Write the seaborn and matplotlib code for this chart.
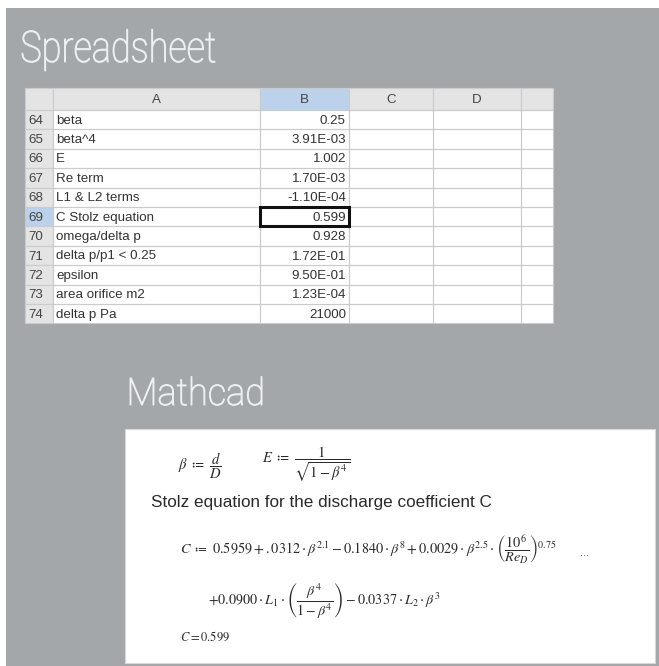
import matplotlib.pyplot as plt
import seaborn as sns
from matplotlib.patches import Rectangle, PathPatch
from matplotlib.textpath import TextPath
from matplotlib.font_manager import FontProperties
from matplotlib.transforms import Affine2D

sns.set_style("white")
plt.rcParams['font.family'] = ['Liberation Sans', 'DejaVu Sans']
plt.rcParams['mathtext.fontset'] = 'stix'

# spreadsheet data
row_nums = [64, 65, 66, 67, 68, 69, 70, 71, 72, 73, 74]
col_names = ["A", "B", "C", "D", ""]
labels_a = ["beta", "beta^4", "E", "Re term", "L1 & L2 terms", "C Stolz equation",
            "omega/delta p", "delta p/p1 < 0.25", "epsilon", "area orifice m2", "delta p Pa"]
values_b = ["0.25", "3.91E-03", "1.002", "1.70E-03", "-1.10E-04", "0.599",
            "0.928", "1.72E-01", "9.50E-01", "1.23E-04", "21000"]
sel_row = 69
sel_col = "B"

# mathcad lines
mc_beta = r"$\beta\ \coloneq\ \dfrac{d}{D}$"
mc_e = r"$E\ \coloneq\ \dfrac{1}{\sqrt{1-\beta^{4}}}$"
mc_note = "Stolz equation for the discharge coefficient C"
mc_c1 = (r"$C\ \coloneq\ 0.5959 + .0312\cdot\beta^{2.1} - 0.1840\cdot\beta^{8} + 0.0029\cdot\beta^{2.5}"
         r"\cdot\left(\dfrac{10^{6}}{Re_{D}}\right)^{0.75}$")
mc_c2 = r"$+0.0900\cdot L_{1}\cdot\left(\dfrac{\beta^{4}}{1-\beta^{4}}\right) - 0.0337\cdot L_{2}\cdot\beta^{3}$"
mc_res = r"$C = 0.599$"

bg = "#a3a7aa"
fig = plt.figure(figsize=(6.59, 6.66), dpi=100, facecolor="white")
ax = fig.add_axes([0, 0, 1, 1])
ax.set_xlim(0, 659)
ax.set_ylim(666, 0)
ax.axis("off")

ax.add_patch(Rectangle((6, 8), 653, 658, color=bg, lw=0))


def title(txt, x, base, width, cap):
    # condensed thin heading, squeezed to the width seen in the screenshot
    fp = FontProperties(family="Roboto", weight="light")
    tp = TextPath((0, 0), txt, size=100, prop=fp)
    cap_h = TextPath((0, 0), "M", size=100, prop=fp).get_extents().height
    ext = tp.get_extents()
    sy = cap / cap_h
    sx = width / ext.width
    tr = Affine2D().translate(-ext.x0, 0).scale(sx, -sy).translate(x, base)
    ax.add_patch(PathPatch(tr.transform_path(tp), facecolor="#eeeff0", edgecolor="#eeeff0", lw=0.7))


title("Spreadsheet", 22, 62, 193, 31)
title("Mathcad", 130, 405, 132, 27)

# table geometry
edges = [25, 53, 260, 349, 433, 521, 553]
top, head_h, row_h = 88, 22, 19.4
grid = "#c9cbcf"
hdr = "#e4e4e4"
blue = "#bcd2ea"
fs = 9.6

ax.add_patch(Rectangle((edges[0], top), edges[-1] - edges[0], head_h + row_h * len(row_nums),
                       facecolor="white", edgecolor="none"))
# header row
for i, name in enumerate([""] + col_names):
    x0, x1 = edges[i], edges[i + 1]
    fc = blue if name == sel_col else hdr
    ax.add_patch(Rectangle((x0, top), x1 - x0, head_h, facecolor=fc, edgecolor=grid, lw=0.8))
    ax.text((x0 + x1) / 2, top + head_h / 2 + 1, name, fontsize=fs, ha="center", va="center", color="#444444")

for r, (num, a, b) in enumerate(zip(row_nums, labels_a, values_b)):
    y0 = top + head_h + r * row_h
    fc = blue if num == sel_row else hdr
    ax.add_patch(Rectangle((edges[0], y0), edges[1] - edges[0], row_h, facecolor=fc, edgecolor=grid, lw=0.8))
    ax.text(edges[0] + 3, y0 + row_h / 2 + 1, str(num), fontsize=fs, ha="left", va="center",
            color="#444444")
    for i in range(1, len(edges) - 1):
        ax.add_patch(Rectangle((edges[i], y0), edges[i + 1] - edges[i], row_h, facecolor="none",
                               edgecolor=grid, lw=0.8))
    ax.text(edges[1] + 3, y0 + row_h / 2 + 1, a, fontsize=fs, ha="left", va="center", color="#333333")
    ax.text(edges[3] - 3, y0 + row_h / 2 + 1, b, fontsize=fs, ha="right", va="center", color="#333333")
    if num == sel_row:
        ax.add_patch(Rectangle((edges[2], y0), edges[3] - edges[2], row_h, facecolor="none",
                               edgecolor="#111111", lw=2.2, zorder=5))

# mathcad box
ax.add_patch(Rectangle((125, 429), 530, 234, facecolor="white", edgecolor="#d8d8d8", lw=0.8))
ink = "#2a2a2a"
ax.text(178, 466, mc_beta, fontsize=10.5, ha="left", va="center", color=ink)
ax.text(262, 464, mc_e, fontsize=10.5, ha="left", va="center", color=ink)
ax.text(151, 503, mc_note, fontsize=12.3, ha="left", va="center", color=ink)
ax.text(180, 550, mc_c1, fontsize=10.3, ha="left", va="center", color=ink)
ax.text(580, 553, "...", fontsize=8, ha="left", va="center", color="#555555")
ax.text(208, 600, mc_c2, fontsize=10.2, ha="left", va="center", color=ink)
ax.text(180, 637, mc_res, fontsize=9, ha="left", va="center", color=ink)

fig.savefig("out.png", dpi=100, facecolor="white")
